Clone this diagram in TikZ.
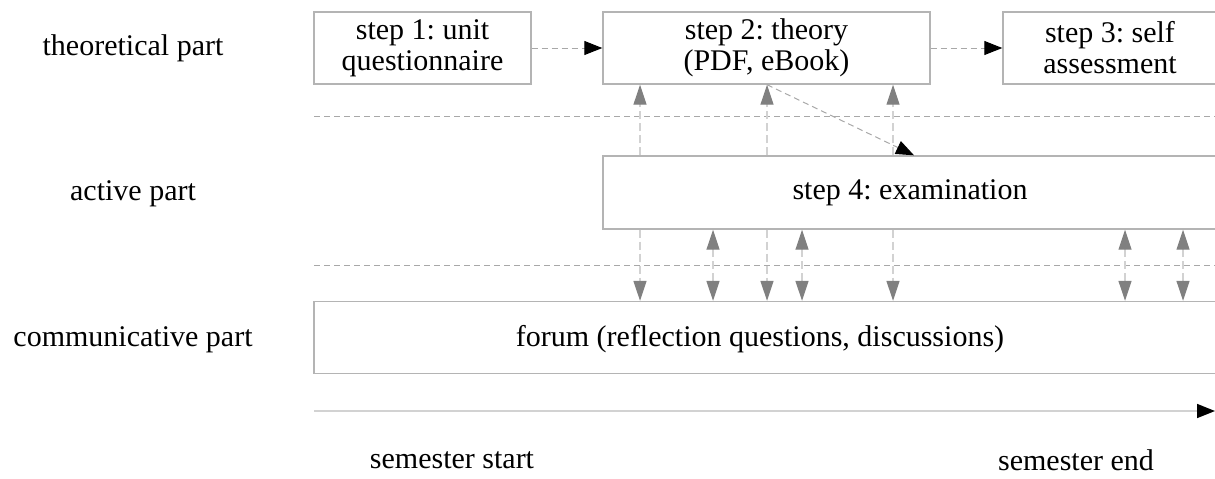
\documentclass[tikz,border=0pt]{standalone}
\usepackage{fontspec}
\setmainfont{Liberation Serif}
\frenchspacing
\usetikzlibrary{arrows.meta}

\definecolor{boxgray}{HTML}{B4B4B4}
\definecolor{sepgray}{HTML}{A8A8A8}
\definecolor{linkgray}{HTML}{D2D2D2}
\definecolor{tipgray}{HTML}{808080}

\tikzset{
  stepbox/.style={draw=boxgray, line width=0.7pt, minimum height=36pt,
    align=center, inner sep=0pt},
  rowlabel/.style={align=center},
  sepline/.style={draw=sepgray, dash pattern=on 3pt off 2pt, line width=0.5pt},
  flow/.style={draw=sepgray, dash pattern=on 3pt off 2pt, line width=0.5pt,
    -{Triangle[length=9pt, width=7pt, color=black]}},
  uplink/.style={draw=linkgray, dash pattern=on 4pt off 2pt, line width=0.6pt,
    -{Triangle[length=10pt, width=6.5pt, color=tipgray]}},
  bothlink/.style={uplink, {Triangle[length=10pt, width=6.5pt, color=tipgray]}-{Triangle[length=10pt, width=6.5pt, color=tipgray]}},
  timeline/.style={draw=linkgray, line width=0.8pt,
    -{Triangle[length=9pt, width=7pt, color=black]}}
}

\begin{document}
\begin{tikzpicture}[x=0.5pt, y=-0.5pt,
    font=\fontsize{15}{15.5}\selectfont]
  \useasboundingbox (0,0) rectangle (1215,478);
  \clip (0,0) rectangle (1215,478);

  % row labels
  \node (lbltheo) [rowlabel] at (133,48) {theoretical part};
  \node (lblact) [rowlabel] at (133,194) {active part};
  \node (lblcomm) [rowlabel] at (133,340) {communicative part};

  % separators
  \draw [sepline] (314,116) -- (1215,116);
  \draw [sepline] (314,265) -- (1215,265);

  % theoretical part
  \node (unit) [stepbox, minimum width=108.5pt] at (422.5,48)
    {step 1: unit\\questionnaire};
  \node (theory) [stepbox, minimum width=163.5pt] at (766.5,48)
    {step 2: theory\\(PDF, eBook)};
  \node (self) [stepbox, minimum width=107pt] at (1110,48)
    {step 3: self\\assessment};

  % active part
  \node (exam) [stepbox, minimum width=307pt, minimum height=36.5pt]
    at (910,192.5) {step 4: examination};

  % communicative part
  \node (forum) [stepbox, minimum width=493pt] at (807,337.5) {};
  \node (forumtext) at (760,339) {forum (reflection questions, discussions)};

  % flow
  \draw [flow] (unit) -- (theory);
  \draw [flow] (theory) -- (self);
  \draw [flow] (theory.south -| 767,0) -- (exam.north -| 914,0);

  % links exam -> theory
  \foreach \x in {640,767,893}
    \draw [uplink] (exam.north -| \x,0) -- (theory.south -| \x,0);

  % links exam <-> forum
  \foreach \x in {640,767,893}
    \draw [uplink] (exam.south -| \x,0) -- (forum.north -| \x,0);
  \foreach \x in {713,802,1125,1183}
    \draw [bothlink] (exam.south -| \x,0) -- (forum.north -| \x,0);

  % semester
  \coordinate (tstart) at (314,411);
  \coordinate (tend) at (1215,411);
  \draw [timeline] (tstart) -- (tend);
  \node (semstart) at (452,460) {semester start};
  \node (semend) at (1076,460) {semester end};
\end{tikzpicture}
\end{document}
